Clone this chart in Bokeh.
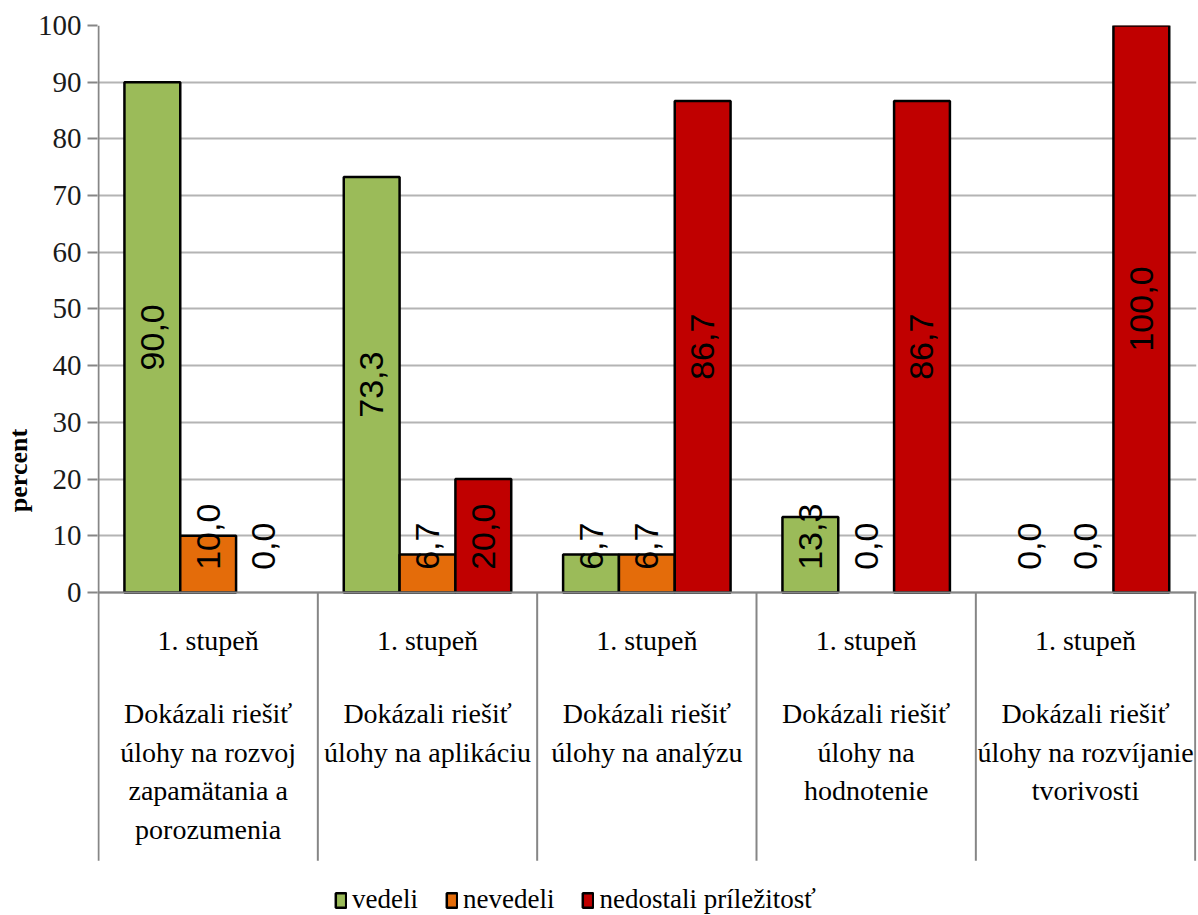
import numpy as np
from bokeh.plotting import figure
from bokeh.models import (ColumnDataSource, Range1d, FixedTicker, Span, Legend,
                          LegendItem)
from bokeh.core.properties import value
from bokeh.embed import file_html
from bokeh.resources import INLINE

# ---- data ----
level = ["1. stupeň"] * 5
categories = [
    "Dokázali riešiť\núlohy na rozvoj\nzapamätania a\nporozumenia",
    "Dokázali riešiť\núlohy na aplikáciu",
    "Dokázali riešiť\núlohy na analýzu",
    "Dokázali riešiť\núlohy na\nhodnotenie",
    "Dokázali riešiť\núlohy na rozvíjanie\ntvorivosti",
]
series_names = ["vedeli", "nevedeli", "nedostali príležitosť"]
vedeli = [90.0, 73.3, 6.7, 13.3, 0.0]
nevedeli = [10.0, 6.7, 6.7, 0.0, 0.0]
nedostali = [0.0, 20.0, 86.7, 86.7, 100.0]
y_ticks = [0, 10, 20, 30, 40, 50, 60, 70, 80, 90, 100]

colors = ["#9BBB59", "#E46C0A", "#C00000"]
series = [vedeli, nevedeli, nedostali]

SERIF = "Liberation Serif"
SANS = "Liberation Sans"

n = len(categories)
sep_bottom = -47.3      # bottom of the category-label area
y_start = -56.97        # frame extends to canvas bottom (room for legend)

p = figure(width=1198, height=915, output_backend="svg", toolbar_location=None,
           x_range=Range1d(-0.00455, n + 0.006), y_range=Range1d(y_start, 100),
           min_border_left=96, min_border_right=2, min_border_top=25,
           min_border_bottom=0)
p.outline_line_color = None
p.background_fill_color = "white"
p.border_fill_color = "white"

# axes
p.xaxis.visible = False
p.xgrid.visible = False
ax = p.yaxis[0]
ax.ticker = FixedTicker(ticks=y_ticks)
ax.axis_line_color = None
ax.major_tick_line_color = "#868686"
ax.major_tick_line_width = 2
ax.major_tick_out = 10
ax.major_tick_in = 0
ax.minor_tick_line_color = None
ax.major_label_text_font = SERIF
ax.major_label_text_font_size = "29px"
ax.major_label_text_color = "#1a1a1a"
ax.major_label_standoff = 6
ax.axis_label = "percent"
ax.axis_label_text_font = SERIF
ax.axis_label_text_font_style = "bold"
ax.axis_label_text_font_size = "26px"
ax.axis_label_text_color = "black"
ax.axis_label_standoff = 2
p.ygrid.ticker = FixedTicker(ticks=y_ticks)
p.ygrid.grid_line_color = "#b4b4b4"
p.ygrid.grid_line_width = 2

# bars
bar_w = 0.2545
offsets = [-bar_w, 0.0, bar_w]
centers = np.arange(n) + 0.5
items = []
for name, vals, off, col in zip(series_names, series, offsets, colors):
    vals = np.array(vals)
    src = ColumnDataSource(dict(
        x=centers + off, top=vals,
        la=np.where(vals > 0, 1.0, 0.0), fa=np.where(vals > 0, 1.0, 0.0)))
    r = p.vbar(x="x", top="top", bottom=0, width=bar_w, source=src,
               fill_color=col, fill_alpha="fa", line_color="black",
               line_alpha="la", line_width=2.5)
    items.append(LegendItem(label=name, renderers=[r],
                            index=int(np.argmax(vals > 0))))
    # data labels
    big = vals > 20
    lab = ColumnDataSource(dict(
        x=centers + off,
        y=np.where(big, vals / 2.0, 4.0),
        t=[f"{v:.1f}".replace(".", ",") for v in vals],
        align=np.where(big, "center", "left")))
    p.text(x="x", y="y", text="t", source=lab, angle=np.pi / 2,
           text_align="align", text_baseline="middle",
           text_font=value(SANS), text_font_size="34px", text_color="black")

# value axis line, baseline and category separators
p.segment(x0=0, x1=0, y0=100, y1=sep_bottom, line_color="#868686",
          line_width=2)
p.add_layout(Span(location=0, dimension="width", line_color="#868686",
                  line_width=2))
p.segment(x0=np.arange(1, n + 1), x1=np.arange(1, n + 1), y0=0,
          y1=sep_bottom, line_color="#868686", line_width=2)

# category labels
p.text(x=centers, y=-8.5, text=level, text_align="center",
       text_baseline="middle", text_font=value(SERIF),
       text_font_size="28px", text_color="black")
p.text(x=centers, y=-18.6, text=categories, text_align="center",
       text_baseline="top", text_font=value(SERIF), text_font_size="28px",
       text_line_height=1.25, text_color="black")

# legend
legend = Legend(items=items, orientation="horizontal", location=(237, 0))
legend.label_text_font = SERIF
legend.label_text_font_size = "27px"
legend.label_text_color = "black"
legend.label_height = 30
legend.glyph_width = 13
legend.glyph_height = 18
legend.label_standoff = 5
legend.spacing = 27
legend.padding = 0
legend.margin = 0
legend.border_line_alpha = 0
legend.background_fill_alpha = 0
p.add_layout(legend, "center")

open("out.html", "w").write(file_html(p, INLINE))
